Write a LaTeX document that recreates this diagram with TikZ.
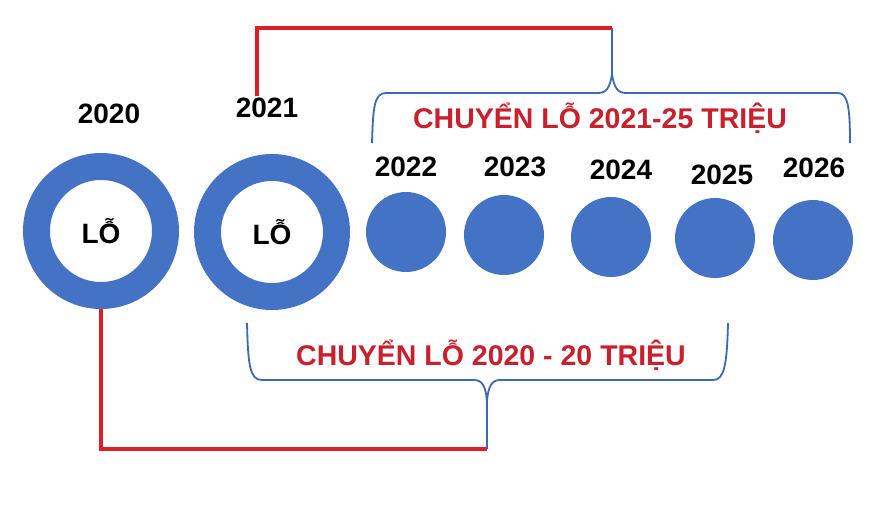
\documentclass[tikz,border=0pt]{standalone}
\usepackage{fontspec}
\setmainfont{Liberation Sans}
\definecolor{ringblue}{RGB}{68,114,196}
\definecolor{braceblue}{RGB}{62,104,176}
\definecolor{linered}{RGB}{222,30,40}
\definecolor{textred}{RGB}{200,32,45}
\begin{document}
\begin{tikzpicture}[x=1pt,y=-1pt,
  ring/.style={circle,draw=ringblue,line width=27pt,minimum size=129pt,inner sep=0pt,
    font=\bfseries\fontsize{28}{30}\selectfont},
  dot/.style={circle,fill=ringblue,minimum size=80pt,inner sep=0pt},
  yearlbl/.style={font=\bfseries\fontsize{28}{30}\selectfont,text=black,inner sep=0pt},
  redtext/.style={font=\bfseries\fontsize{28.5}{31}\selectfont,text=textred,inner sep=0pt},
  redline/.style={draw=linered,line width=4pt},
  bracestyle/.style={draw=braceblue,line width=1.8pt,line join=round}]
\useasboundingbox (0,0) rectangle (886,512);
\fill[white] (0,0) rectangle (886,512);
% rings
\node[ring] (r2020) at (101,231) {LỖ};
\node[ring] (r2021) at (272,232) {LỖ};
% dots
\node[dot] (d2022) at (406,232) {};
\node[dot] (d2023) at (504,235) {};
\node[dot] (d2024) at (611,237) {};
\node[dot] (d2025) at (715,238) {};
\node[dot] (d2026) at (813,240) {};
% year labels
\node[yearlbl] (y2020) at (109,114) {2020};
\node[yearlbl] (y2021) at (267,108) {2021};
\node[yearlbl] (y2022) at (406,167) {2022};
\node[yearlbl] (y2023) at (515,167) {2023};
\node[yearlbl] (y2024) at (621,170) {2024};
\node[yearlbl] (y2025) at (722,175) {2025};
\node[yearlbl] (y2026) at (814,168) {2026};
% red texts
\node[redtext] (t1) at (600,118) {CHUYỂN LỖ 2021-25 TRIỆU};
\node[redtext] (t2) at (491,355) {CHUYỂN LỖ 2020 - 20 TRIỆU};
% brace tips
\coordinate (tipA) at (612,28);
\coordinate (tipB) at (487,449);
\coordinate (c21) at (257,96);
% braces
\draw[bracestyle] (372,143) .. controls (373,108) and (374,93) .. (386,93) -- (598,93)
  .. controls (606,93) and (610,88) .. (612,74) -- (tipA);
\draw[bracestyle] (612,74) .. controls (614,88) and (618,93) .. (626,93) -- (838,93)
  .. controls (848,93) and (850,108) .. (850,143);
\draw[bracestyle] (247,323) .. controls (248,366) and (250,380) .. (262,380) -- (474,380)
  .. controls (482,380) and (486,386) .. (487,402) -- (tipB);
\draw[bracestyle] (487,402) .. controls (488,386) and (492,380) .. (500,380) -- (713,380)
  .. controls (724,380) and (727,366) .. (728,323);
% red connectors
\draw[redline] (r2020.south) |- (tipB);
\draw[redline] (c21) |- (tipA);
\end{tikzpicture}
\end{document}
